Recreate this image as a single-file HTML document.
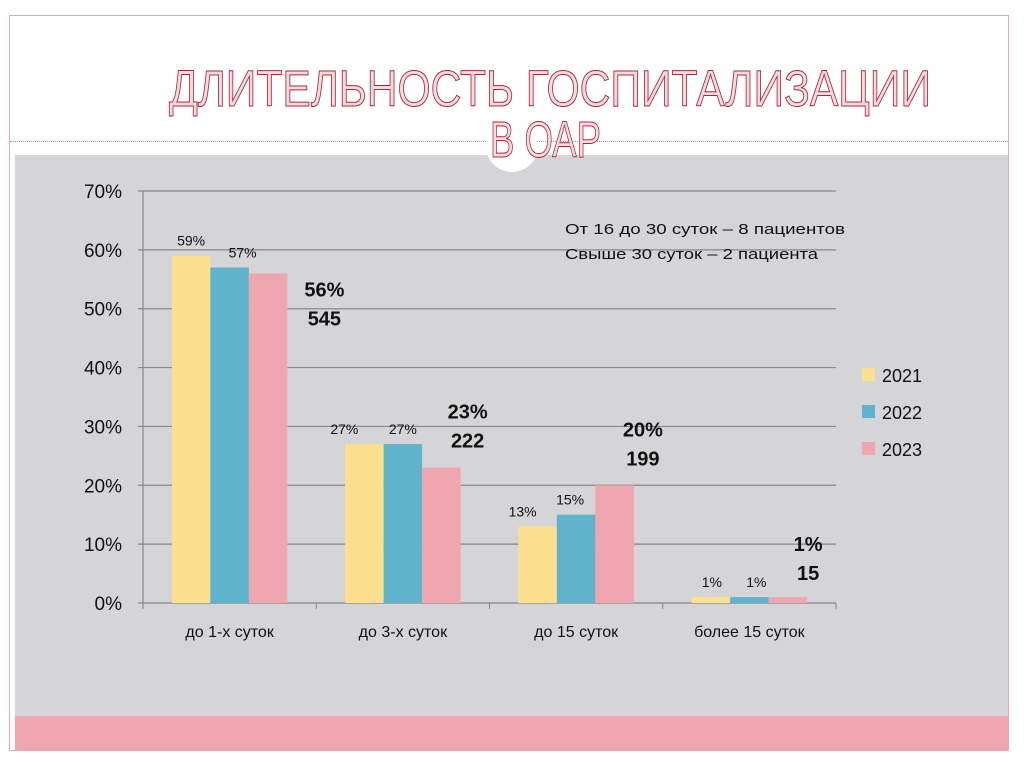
<!DOCTYPE html>
<html><head><meta charset="utf-8"><style>
body{margin:0;width:1024px;height:767px;background:#fff;position:relative;overflow:hidden;font-family:"Liberation Sans","DejaVu Sans",sans-serif}
.abs{position:absolute}
</style></head><body>
<div class="abs" style="left:9px;top:15px;width:1000px;height:736px;border:1px solid #e8aab2;box-sizing:border-box"></div>
<div class="abs" style="left:10px;top:141px;width:998px;border-top:1px dotted #d88a95"></div>
<div class="abs" style="left:15px;top:155px;width:993px;height:561px;background:#d5d5d7"></div>
<div class="abs" style="left:15px;top:716px;width:993px;height:35px;background:#efa6b0"></div>
<svg class="abs" style="left:0;top:0" width="1024" height="767">
<circle cx="512" cy="146" r="26" fill="#fff"/>
<text x="169" y="106" font-size="51" fill="#f8dadd" stroke="#a82a3a" stroke-width="1" font-family="Liberation Sans Narrow, Liberation Sans, sans-serif" textLength="762" lengthAdjust="spacingAndGlyphs">ДЛИТЕЛЬНОСТЬ ГОСПИТАЛИЗАЦИИ</text>
<text x="490" y="157" font-size="51" fill="#f8dadd" stroke="#a82a3a" stroke-width="1" font-family="Liberation Sans Narrow, Liberation Sans, sans-serif" textLength="111" lengthAdjust="spacingAndGlyphs">В ОАР</text>
<g id="plot"></g>
<text x="565" y="234" font-size="15" fill="#111" textLength="280" lengthAdjust="spacingAndGlyphs">От 16 до 30 суток – 8 пациентов</text>
<text x="565" y="259" font-size="15" fill="#111" textLength="253" lengthAdjust="spacingAndGlyphs">Свыше 30 суток – 2 пациента</text>
</svg>
<script>
const categories=["до 1-х суток","до 3-х суток","до 15 суток","более 15 суток"];
const s2021=[59,27,13,1];
const s2022=[57,27,15,1];
const s2023=[56,23,20,1];
const counts=["545","222","199","15"];
const yTicks=[0,10,20,30,40,50,60,70];
const seriesNames=["2021","2022","2023"];
const colors=["#fde08e","#5fb3cc","#efa6b0"];
// layout offsets (pixels), not data
const bigDx=[37,7,9,1], bigDy=[23,-49,-49,-46];
const smallDx=[[0,13],[-20,0],[-15,-6],[1,7]];
const NS="http://www.w3.org/2000/svg";
const g=document.getElementById('plot');
const x0=143,x1=836,y0=603,yTop=191,yMax=70;
const Y=v=>y0-(v/yMax)*(y0-yTop);
const cw=(x1-x0)/categories.length,bw=38.5;
function mk(t,a,txt){const e=document.createElementNS(NS,t);for(const k in a)e.setAttribute(k,a[k]);if(txt!==undefined)e.textContent=txt;g.appendChild(e);return e;}
yTicks.forEach(v=>{
 const l=mk('line',{x1:x0-5,x2:x1,y1:Y(v),y2:Y(v),stroke:'#888','stroke-width':1.2});
 
 
 const t=mk('text',{x:122,y:Y(v)+7,'text-anchor':'end','font-size':19,fill:'#111'},v+'%');
 
 
});
mk('line',{x1:x0,x2:x0,y1:yTop,y2:y0+5,stroke:'#888','stroke-width':1.2});
for(let i=0;i<=categories.length;i++)mk('line',{x1:x0+i*cw,x2:x0+i*cw,y1:y0,y2:y0+6,stroke:'#888'});
const series=[s2021,s2022,s2023];
categories.forEach((c,i)=>{
 const gx=x0+i*cw+(cw-3*bw)/2;
 series.forEach((s,j)=>{
  const r=mk('rect',{x:gx+j*bw,y:Y(s[i]),width:bw,height:y0-Y(s[i]),fill:colors[j]});
  
  
  if(j<2){const t=mk('text',{x:gx+j*bw+bw/2+smallDx[i][j],y:Y(s[i])-10,'text-anchor':'middle','font-size':14,fill:'#111'},s[i]+'%');
   
   }
 });
 const lx=gx+3*bw+bigDx[i], ly=Y(s2023[i])+bigDy[i];
 const a=mk('text',{x:lx,y:ly,'text-anchor':'middle','font-size':20,'font-weight':'bold',fill:'#111'},s2023[i]+'%');
 
 
 const b=mk('text',{x:lx,y:ly+29,'text-anchor':'middle','font-size':20,'font-weight':'bold',fill:'#111'},counts[i]);
 
 
 const ct=mk('text',{x:x0+i*cw+cw/2,y:637,'text-anchor':'middle','font-size':16,fill:'#111'},c);
 
 
});
seriesNames.forEach((n,j)=>{
 const yy=380+j*37;
 const r=mk('rect',{x:862,y:yy-12,width:13,height:13,fill:colors[j]});
 
 
 const t=mk('text',{x:882,y:yy+2,'font-size':18,fill:'#111'},n);
 
 
});
</script>
</body></html>
